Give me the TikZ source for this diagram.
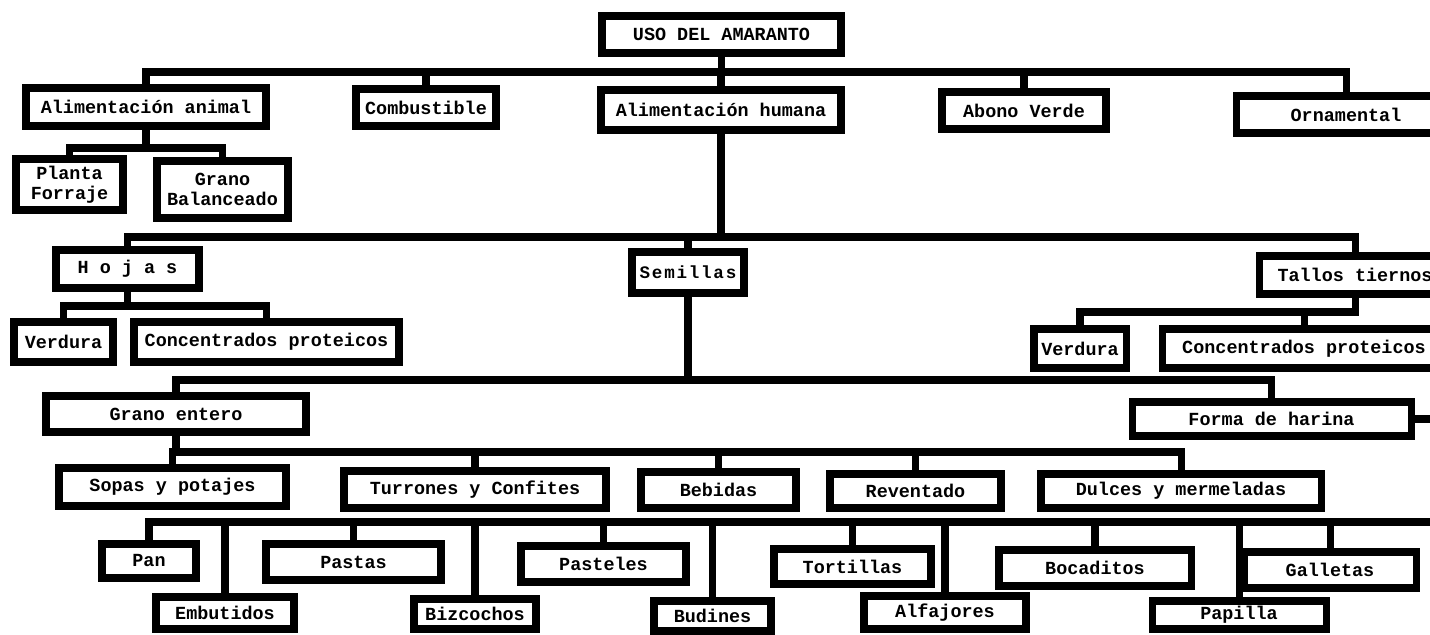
\documentclass[tikz,border=0pt]{standalone}
\usepackage{fontspec}
\setmonofont{Liberation Mono}
\begin{document}
\begin{tikzpicture}[x=0.02cm,y=-0.02cm,
  box/.style={draw=black,line width=4pt,fill=white,inner sep=0pt,
    font=\ttfamily\bfseries\fontsize{10.5}{11.5}\selectfont,align=center},
  conn/.style={line width=4pt,line cap=rect,line join=miter}]
\useasboundingbox[fill=white] (0,0) rectangle (1430,635);
\newcommand\bx[6]{\node[box,minimum width={(#4-#2-8)*0.02cm},minimum height={(#5-#3-8)*0.02cm}] (#1) at ({(#2+#4)/2},{(#3+#5)/2}) {#6};}
\newcommand\lsp{\hspace{1pt}}
% nodes
\bx{title}{598}{12}{845}{57}{USO DEL AMARANTO}
\bx{amal}{22}{84}{270}{130}{Alimentación animal}
\bx{comb}{352}{85}{500}{130}{Combustible}
\bx{ahum}{597}{86}{845}{134}{Alimentación humana}
\bx{abono}{938}{88}{1110}{133}{Abono Verde}
\bx{orn}{1232}{92}{1460}{137}{Ornamental}
\bx{forr}{12}{155}{127}{214}{Planta\\Forraje}
\bx{bal}{153}{157}{292}{222}{Grano\\Balanceado}
\bx{hojas}{52}{246}{203}{292}{H o j a s}
\bx{sem}{628}{248}{748}{297}{\fontsize{10}{11}\selectfont S\lsp e\lsp m\lsp i\lsp l\lsp l\lsp a\lsp s}
\bx{tallos}{1255}{252}{1455}{298}{Tallos tiernos}
\bx{verd}{10}{318}{117}{366}{Verdura}
\bx{conc}{130}{318}{403}{366}{Concentrados proteicos}
\bx{verdb}{1030}{325}{1130}{372}{Verdura}
\bx{concb}{1158}{325}{1450}{372}{Concentrados proteicos}
\bx{grano}{42}{392}{310}{436}{Grano entero}
\bx{harina}{1128}{398}{1415}{440}{Forma de harina}
\bx{sopas}{55}{464}{290}{510}{Sopas y potajes}
\bx{turr}{340}{467}{610}{512}{Turrones y Confites}
\bx{beb}{637}{468}{800}{512}{Bebidas}
\bx{rev}{826}{470}{1005}{512}{Reventado}
\bx{dulc}{1037}{470}{1325}{512}{Dulces y mermeladas}
\bx{pan}{98}{540}{200}{582}{Pan}
\bx{pastas}{262}{540}{445}{584}{Pastas}
\bx{past}{517}{542}{690}{586}{Pasteles}
\bx{tort}{770}{545}{935}{588}{Tortillas}
\bx{boc}{995}{546}{1195}{590}{Bocaditos}
\bx{gall}{1240}{548}{1420}{592}{Galletas}
\bx{emb}{152}{593}{298}{633}{Embutidos}
\bx{biz}{410}{595}{540}{633}{Bizcochos}
\bx{bud}{650}{597}{775}{635}{Budines}
\bx{alf}{860}{592}{1030}{633}{Alfajores}
\bx{pap}{1148}{597}{1330}{633}{Papilla}
% bus levels
\coordinate (b1) at (0,72);
\coordinate (b2) at (0,148);
\coordinate (b3) at (0,237);
\coordinate (b4) at (0,306);
\coordinate (b5) at (0,312);
\coordinate (b6) at (0,380);
\coordinate (b7) at (0,452);
\coordinate (b8) at (0,522);
\coordinate (edge) at (1436,0);
% level 1
\draw[conn] (title.south) -- (title.south |- b1);
\draw[conn] (amal.north) -- (amal.north |- b1) -- (orn.north |- b1) -- (orn.north);
\foreach \n in {comb,ahum,abono} \draw[conn] (\n.north) -- (\n.north |- b1);
% animal
\draw[conn] (amal.south) -- (amal.south |- b2);
\draw[conn] (forr.north) -- (forr.north |- b2) -- (bal.north |- b2) -- (bal.north);
% humana
\draw[conn] (ahum.south) -- (ahum.south |- b3);
\draw[conn] (hojas.north) -- (hojas.north |- b3) -- (tallos.north |- b3) -- (tallos.north);
\draw[conn] (sem.north) -- (sem.north |- b3);
% hojas
\draw[conn] (hojas.south) -- (hojas.south |- b4);
\draw[conn] (verd.north) -- (verd.north |- b4) -- (conc.north |- b4) -- (conc.north);
% tallos
\draw[conn] (verdb.north) -- (verdb.north |- b5) -- (tallos.south |- b5) -- (tallos.south);
\draw[conn] (concb.north) -- (concb.north |- b5);
% semillas
\draw[conn] (sem.south) -- (sem.south |- b6);
\draw[conn] (grano.north) -- (grano.north |- b6) -- (harina.north |- b6) -- (harina.north);
% grano entero
\draw[conn] (grano.south) -- (grano.south |- b7);
\draw[conn] (sopas.north) -- (sopas.north |- b7) -- (dulc.north |- b7) -- (dulc.north);
\foreach \n in {turr,beb,rev} \draw[conn] (\n.north) -- (\n.north |- b7);
% harina
\draw[conn] (harina.east) -- (harina.east -| edge) -- (edge |- b8) -- (pan.north |- b8) -- (pan.north);
\foreach \n in {pastas,past,tort,boc,gall,emb,biz,bud,alf,pap} \draw[conn] (\n.north) -- (\n.north |- b8);
\end{tikzpicture}
\end{document}
